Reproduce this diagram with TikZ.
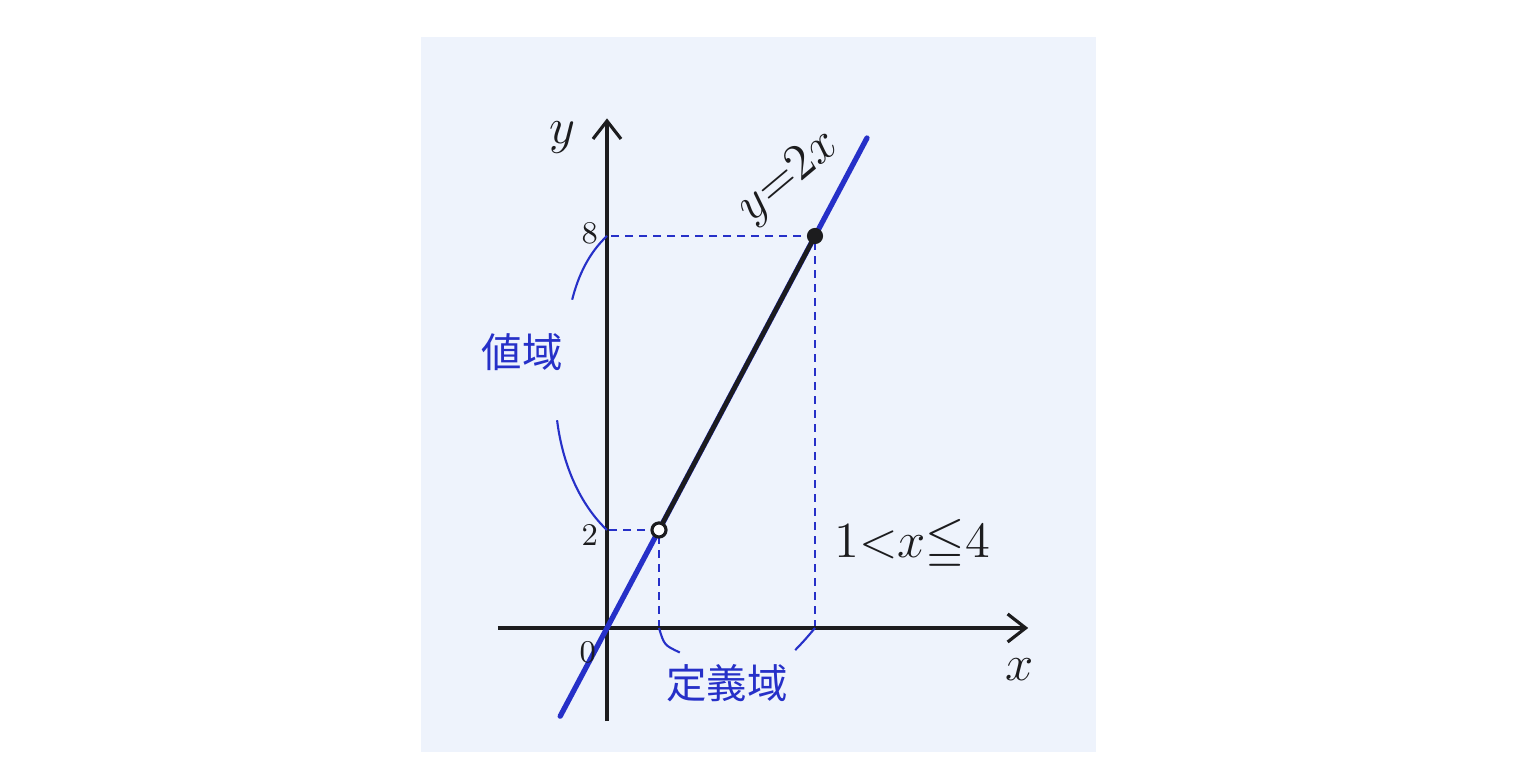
\documentclass[tikz,border=0pt]{standalone}
\usepackage{amssymb}
\usepackage{fontspec}
\newfontfamily\cjk{Noto Sans CJK JP}
\usetikzlibrary{arrows.meta,calc}
\definecolor{GraphPaper}{RGB}{238,243,252}
\definecolor{GraphInk}{RGB}{28,28,30}
\definecolor{GraphPen}{RGB}{38,48,200}
\tikzset{
  graph axis/.style={draw=GraphInk, line width=0.9pt, -{Straight Barb[length=1.8mm,width=2.8mm]}},
  graph line/.style={draw=GraphPen, line width=1.5pt, line cap=round},
  graph part/.style={draw=GraphInk, line width=1.3pt},
  graph guide/.style={draw=GraphPen, line width=0.5pt, dash pattern=on 0.8mm off 0.6mm},
  graph brace/.style={draw=GraphPen, line width=0.6pt},
  graph tick/.style={font=\small, text=GraphInk, inner sep=1pt},
  graph name/.style={font=\Large, text=GraphInk, inner sep=1pt},
  graph note/.style={font=\cjk\fontsize{11.5}{13}\selectfont, text=GraphPen, inner sep=1pt}
}
\begin{document}
\begin{tikzpicture}[x=0.52cm, y=0.49cm]
\useasboundingbox (-6.07cm,-1.55cm) rectangle (9.29cm,6.28cm);
\fill[GraphPaper] (-1.86cm,-1.24cm) rectangle (4.89cm,5.91cm);
% points
\coordinate (O) at (0,0);
\coordinate (xs) at (-2.1,0);
\coordinate (xe) at (8.1,0);
\coordinate (ys) at (0,-1.9);
\coordinate (ye) at (0,10.4);
\coordinate (ls) at (-0.9,-1.8);
\coordinate (le) at (5.0,10.0);
\coordinate (A) at (1,2);
\coordinate (B) at (4,8);
% guides
\draw[graph guide] (A |- O)--(A)--(A -| O);
\draw[graph guide] (B |- O)--(B)--(B -| O);
% axes
\draw[graph axis] (xs)--(xe);
\draw[graph axis] (ys)--(ye);
% y=2x
\draw[graph line] (ls)--(le);
\draw[graph part] (A)--(B);
\fill[GraphInk] (B) circle (2.3pt);
\draw[GraphInk, line width=0.9pt, fill=white] (A) circle (2pt);
% braces
\coordinate (r1) at (-0.67,6.7);
\coordinate (r2) at (-0.96,4.24);
\draw[graph brace] (B -| O) .. controls (-0.35,7.65) and (-0.55,7.2) .. (r1);
\draw[graph brace] (r2) .. controls (-0.85,3.3) and (-0.5,2.5) .. (A -| O);
\coordinate (d1) at (1.4,-0.5);
\coordinate (d2) at (3.62,-0.45);
\draw[graph brace] (A |- O) .. controls (1.1,-0.35) .. (d1);
\draw[graph brace] (B |- O) .. controls (3.8,-0.25) .. (d2);
% labels
\node[graph name] (ylab) at (-0.85,10.0) {$y$};
\node[graph name] (xlab) at (7.94,-0.85) {$x$};
\node[graph tick] (t8) at (-0.33,8.05) {8};
\node[graph tick] (t2) at (-0.33,1.9) {2};
\node[graph tick] (t0) at (-0.37,-0.5) {0};
\node[graph name, rotate=40] (fn) at (3.5,9.2) {$y{=}2x$};
\node[graph name] (dom) at (5.87,1.69) {$1{<}x{\leqq}4$};
\node[graph note] (range) at (-1.63,5.63) {値域};
\node[graph note] (domain) at (2.31,-1.12) {定義域};
\end{tikzpicture}
\end{document}
